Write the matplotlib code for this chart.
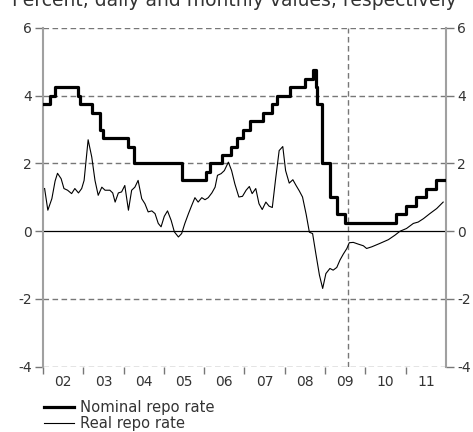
import numpy as np
import matplotlib
matplotlib.use('Agg')
import matplotlib.pyplot as plt

# Nominal repo rate: dates of change and new level (step function)
nom_dates = [2002.0, 2002.18, 2002.30, 2002.87, 2002.93, 2003.21, 2003.42, 2003.50,
             2004.10, 2004.26, 2005.45, 2006.04, 2006.14, 2006.43, 2006.66, 2006.81,
             2006.97, 2007.14, 2007.47, 2007.69, 2007.80, 2008.13, 2008.50, 2008.70,
             2008.77, 2008.80, 2008.93, 2009.12, 2009.29, 2009.50, 2010.75, 2011.0,
             2011.25, 2011.50, 2011.75, 2012.0]
nom_rate = [3.75, 4.00, 4.25, 4.00, 3.75, 3.50, 3.00, 2.75,
            2.50, 2.00, 1.50, 1.75, 2.00, 2.25, 2.50, 2.75,
            3.00, 3.25, 3.50, 3.75, 4.00, 4.25, 4.50, 4.75,
            4.25, 3.75, 2.00, 1.00, 0.50, 0.25, 0.50, 0.75,
            1.00, 1.25, 1.50, 1.50]

# Real repo rate, monthly values and forecast
real_dates = [2002.04, 2002.12, 2002.22, 2002.30, 2002.36, 2002.45, 2002.52, 2002.61,
              2002.71, 2002.79, 2002.88, 2002.96, 2003.02, 2003.12, 2003.21, 2003.29,
              2003.37, 2003.46, 2003.54, 2003.66, 2003.73, 2003.79, 2003.87, 2003.95,
              2004.03, 2004.12, 2004.20, 2004.28, 2004.36, 2004.45, 2004.53, 2004.61,
              2004.70, 2004.78, 2004.86, 2004.93, 2005.01, 2005.09, 2005.18, 2005.26,
              2005.36, 2005.44, 2005.52, 2005.61, 2005.69, 2005.77, 2005.85, 2005.94,
              2006.02, 2006.10, 2006.19, 2006.27, 2006.33, 2006.42, 2006.50, 2006.60,
              2006.68, 2006.76, 2006.86, 2006.95, 2007.04, 2007.12, 2007.19, 2007.28,
              2007.36, 2007.44, 2007.53, 2007.61, 2007.69, 2007.77, 2007.86, 2007.95,
              2008.02, 2008.11, 2008.20, 2008.28, 2008.36, 2008.44, 2008.53, 2008.61,
              2008.69, 2008.77, 2008.86, 2008.94, 2009.02, 2009.12, 2009.20, 2009.29,
              2009.37, 2009.45, 2009.54, 2009.60, 2009.70, 2009.82, 2009.95, 2010.03,
              2010.16, 2010.36, 2010.57, 2010.73, 2010.86, 2011.02, 2011.19, 2011.31,
              2011.44, 2011.60, 2011.77, 2011.93]
real_rate = [1.26, 0.62, 0.96, 1.48, 1.71, 1.55, 1.26, 1.21,
             1.11, 1.26, 1.13, 1.26, 1.50, 2.70, 2.19, 1.50,
             1.06, 1.30, 1.21, 1.21, 1.13, 0.86, 1.13, 1.16,
             1.35, 0.62, 1.21, 1.30, 1.50, 0.96, 0.81, 0.57,
             0.60, 0.52, 0.23, 0.13, 0.44, 0.60, 0.32, -0.02,
             -0.17, -0.07, 0.23, 0.52, 0.76, 0.99, 0.86, 0.99,
             0.93, 0.99, 1.13, 1.30, 1.65, 1.70, 1.79, 2.04,
             1.79, 1.40, 1.01, 1.03, 1.21, 1.32, 1.11, 1.26,
             0.81, 0.64, 0.86, 0.74, 0.70, 1.52, 2.38, 2.50,
             1.79, 1.42, 1.52, 1.35, 1.19, 1.01, 0.50, -0.03,
             -0.07, -0.66, -1.30, -1.69, -1.25, -1.10, -1.15, -1.07,
             -0.85, -0.68, -0.51, -0.34, -0.33, -0.38, -0.43, -0.51,
             -0.46, -0.36, -0.25, -0.12, 0.00, 0.08, 0.23, 0.27,
             0.37, 0.52, 0.67, 0.86]

year_labels = ['02', '03', '04', '05', '06', '07', '08', '09', '10', '11']
forecast_start = 2009.58

grid_col = '#777777'
spine_col = '#a0a0a0'
txt_col = '#333333'

fig = plt.figure(figsize=(4.73, 4.32), dpi=100)
ax = fig.add_axes([0.0909, 0.1512, 0.852, 0.784])

for yv in [-4, -2, 2, 4, 6]:
    ax.axhline(yv, color=grid_col, linestyle=(0, (4, 2.5)), linewidth=1, zorder=1)
ax.axvline(forecast_start, color=grid_col, linestyle=(0, (4, 2.5)), linewidth=1, zorder=1)
ax.axhline(0, color='black', linewidth=0.9, zorder=2)

ax.step(nom_dates, nom_rate, where='post', color='black', linewidth=2.3,
        label='Nominal repo rate', zorder=4)
ax.plot(real_dates, real_rate, color='black', linewidth=0.8,
        label='Real repo rate', zorder=3)

ax.set_xlim(2002, 2012)
ax.set_ylim(-4, 6)

for s in ['top', 'bottom']:
    ax.spines[s].set_visible(False)
for s in ['left', 'right']:
    ax.spines[s].set_color(spine_col)
    ax.spines[s].set_linewidth(1.5)

ax.set_yticks([-4, -2, 0, 2, 4, 6])
ax.set_yticklabels(['-4', '-2', '0', '2', '4', '6'])
ax.tick_params(axis='y', which='both', left=True, right=True, labelleft=True,
               labelright=True, length=6, width=1, color=grid_col,
               labelsize=10, labelcolor=txt_col, pad=2)

years = np.arange(2002, 2012)
ax.set_xticks(years)
ax.set_xticklabels([''] * len(years))
ax.set_xticks(years + 0.5, minor=True)
ax.set_xticklabels(year_labels, minor=True)
ax.tick_params(axis='x', which='major', length=5, width=1, color=grid_col)
ax.tick_params(axis='x', which='minor', length=0, labelsize=10,
               labelcolor=txt_col, pad=6)

# title sits partly above the top edge, as in the source image
fig.text(0.496, 1 - 6 / 432, 'Percent, daily and monthly values, respectively',
         ha='center', va='baseline', fontsize=13.5, color=txt_col)

leg = ax.legend(loc='upper left', bbox_to_anchor=(0.0, -0.095), frameon=False,
                fontsize=10.6, handlelength=2.0, handletextpad=0.4,
                labelspacing=0.05, borderaxespad=0, borderpad=0.1,
                labelcolor=txt_col)

fig.savefig('out.png', dpi=100)
